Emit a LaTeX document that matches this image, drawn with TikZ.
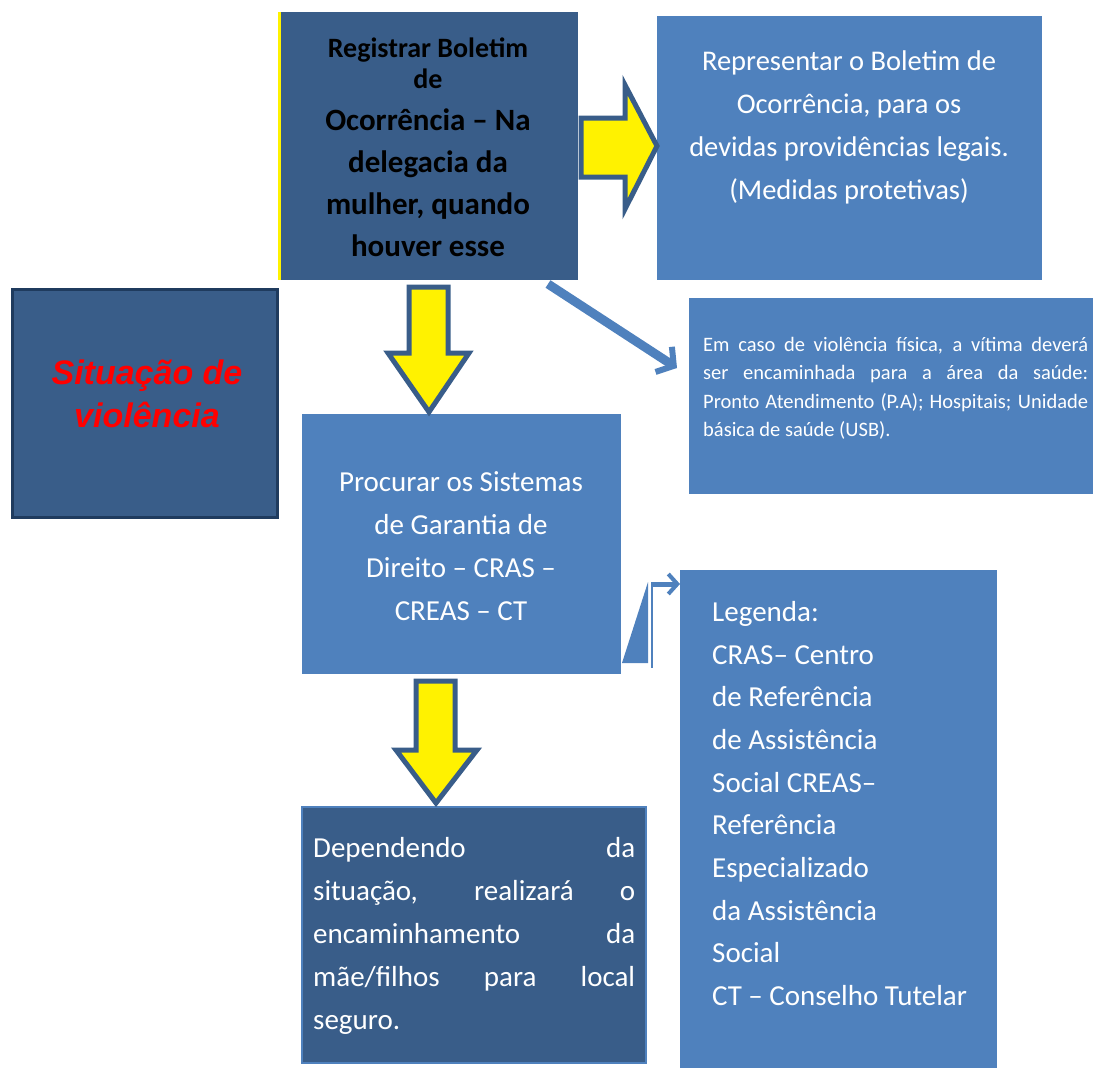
\documentclass[tikz,border=0pt]{standalone}
\usepackage{fontspec}
\setmainfont{Carlito}
\newfontfamily\arialbi{Liberation Sans}
\usetikzlibrary{arrows.meta}
\definecolor{darkb}{HTML}{395D89}
\definecolor{midb}{HTML}{4F81BD}
\definecolor{edgeb}{HTML}{1F3B5E}
\newcommand{\jline}[2]{\makebox[#1][s]{#2}}
\begin{document}
\begin{tikzpicture}[x=1pt,y=-1pt,
  darkbox/.style={fill=darkb,draw=none,inner sep=0pt,anchor=north west},
  midbox/.style={fill=midb,draw=none,inner sep=0pt,anchor=north west},
  wtext/.style={text=white,inner sep=0pt,align=center},
  blockarrow/.style={fill=yellow,draw=darkb,line width=5pt,line join=miter},
  thinconn/.style={draw=midb,line width=9pt,-{Straight Barb[length=12pt,width=30pt,line width=6pt]}}
]
\useasboundingbox (0,0) rectangle (1093,1068);

% boxes
\node (reg) [darkbox,minimum width=299pt,minimum height=268pt] at (279,12) {};
\draw[yellow,line width=3pt] (reg.north west) -- (reg.south west);
\node (rep) [midbox,minimum width=385pt,minimum height=264pt] at (657,16) {};
\node (sit) [darkbox,draw=edgeb,line width=3pt,minimum width=265pt,minimum height=228pt] at (11,288) {};
\node (emc) [midbox,minimum width=404pt,minimum height=196pt] at (689,298) {};
\node (proc) [midbox,minimum width=319pt,minimum height=260pt] at (302,414) {};
\node (leg) [midbox,minimum width=317pt,minimum height=498pt] at (680,570) {};
\node (dep) [darkbox,draw=midb,line width=2pt,minimum width=344pt,minimum height=256pt] at (301,806) {};

% texts
\node (regt) [inner sep=0pt,align=center,text=black,font=\fontsize{31}{42}\selectfont\bfseries] at (428,147)
  {{\fontsize{28}{28}\selectfont Registrar Boletim}\\[-11pt]{\fontsize{28}{28}\selectfont de}\\Ocorrência -- Na\\delegacia da\\mulher, quando\\houver esse};
\node (rept) [wtext,font=\fontsize{28.5}{43}\selectfont] at (849,127)
  {Representar o Boletim de\\Ocorrência, para os\\devidas providências legais.\\(Medidas protetivas)};
\node (sitt) [inner sep=0pt,align=center,text=red,font=\arialbi\fontsize{34}{43}\selectfont\bfseries\itshape] at (147,394)
  {Situação de\\violência};
\node (emct) [inner sep=0pt,text=white,align=left,anchor=north west,font=\fontsize{20.5}{28.5}\selectfont] at (703,337)
  {\jline{385pt}{Em caso de violência física, a vítima deverá}\\
   \jline{385pt}{ser encaminhada para a área da saúde:}\\
   \jline{385pt}{Pronto Atendimento (P.A); Hospitais; Unidade}\\
   básica de saúde (USB).};
\node (proct) [wtext,font=\fontsize{29}{43}\selectfont] at (461,546)
  {Procurar os Sistemas\\de Garantia de\\Direito -- CRAS --\\CREAS -- CT};
\node (legt) [inner sep=0pt,text=white,align=left,anchor=north west,font=\fontsize{29}{42.7}\selectfont] at (712,601)
  {Legenda:\\CRAS-- Centro\\de Referência\\de Assistência\\Social CREAS--\\Referência\\Especializado\\da Assistência\\Social\\CT -- Conselho Tutelar};
\node (dept) [inner sep=0pt,text=white,align=left,anchor=north west,font=\fontsize{29}{43}\selectfont] at (313,837)
  {\jline{322pt}{Dependendo da}\\
   \jline{322pt}{situação, realizará o}\\
   \jline{322pt}{encaminhamento da}\\
   \jline{322pt}{mãe/filhos para local}\\
   seguro.};

% block arrows
\draw[blockarrow] (581,118) -- (625,118) -- (625,85) -- (657,146) -- (625,209) -- (625,177) -- (581,177) -- cycle;
\draw[blockarrow] (409,287) -- (448,287) -- (448,353) -- (469,353) -- (429,412) -- (388,353) -- (409,353) -- cycle;
\draw[blockarrow] (416,681) -- (455,681) -- (455,750) -- (477,750) -- (436,803) -- (396,750) -- (416,750) -- cycle;

% diagonal connector
\coordinate (d0) at (548,284);
\coordinate (d1) at (677,368);
\draw[thinconn] (d0) -- (d1);

% legend connector
\coordinate (l0) at (622,663);
\coordinate (l1) at (648,582);
\coordinate (l2) at (648,663);
\fill[midb] (l0) -- (l1) -- (l2) -- cycle;
\draw[midb,line width=2pt] (652,582) -- (652,668);
\coordinate (la) at (651,584);
\draw[draw=midb,line width=5pt,-{Straight Barb[length=9pt,width=20pt,line width=4pt]}] (la) -- (leg.north west |- la);
\end{tikzpicture}
\end{document}
